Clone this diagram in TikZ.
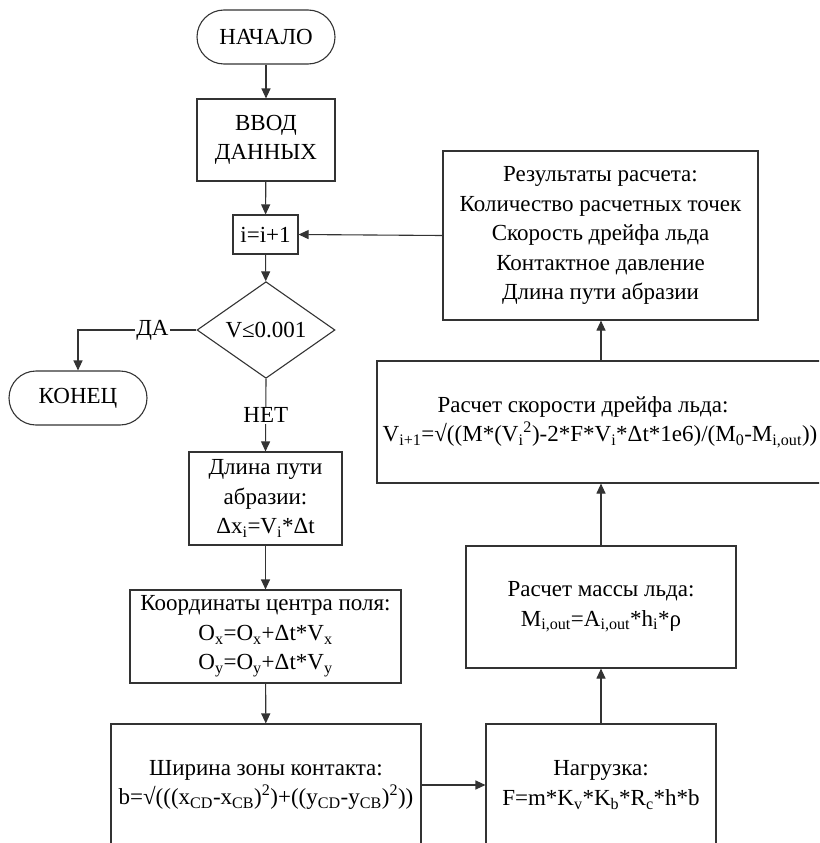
\documentclass[tikz,border=0pt]{standalone}
\usepackage{fontspec}
\setmainfont{Liberation Serif}
\usetikzlibrary{shapes.geometric,arrows.meta}
\newcommand\myfs{\fontsize{23}{29.5}\selectfont}
\begin{document}
\begin{tikzpicture}[x=1pt,y=-1pt,
  every node/.style={font=\myfs},
  box/.style={draw=black!80, line width=1.1pt, rectangle, inner sep=0pt, align=center},
  term/.style={box, rounded corners=27pt, minimum width=138pt, minimum height=54pt},
  dec/.style={draw=black!80, line width=1.1pt, diamond, inner sep=0pt, minimum width=138pt, minimum height=80pt},
  arr/.style={draw=black!80, line width=1.1pt, -{Triangle[length=10pt,width=9pt]}},
  lbl/.style={fill=white, inner sep=1pt}]
\useasboundingbox (0,0) rectangle (819,843);
\clip (0,0) rectangle (819,843);

\node[term] (start) at (266,37) {НАЧАЛО};
\node[box, minimum width=138pt, minimum height=82pt] (input) at (266,140) {ВВОД\\ДАННЫХ};
\node[box, minimum width=65pt, minimum height=39pt] (inc) at (265.5,234.5) {i=i+1};
\node[dec] (cond) at (266,330) {V≤0.001};
\node[term] (stop) at (78,398) {КОНЕЦ};
\node[box, minimum width=153pt, minimum height=93pt] (path) at (265.5,498.5)
  {Длина пути\\абразии:\\Δx\textsubscript{i}=V\textsubscript{i}*Δt};
\node[box, minimum width=271pt, minimum height=93pt] (coord) at (265.5,636.5)
  {Координаты центра поля:\\O\textsubscript{x}=O\textsubscript{x}+Δt*V\textsubscript{x}\\O\textsubscript{y}=O\textsubscript{y}+Δt*V\textsubscript{y}};
\node[box, minimum width=310pt, minimum height=122pt] (width) at (266,785)
  {Ширина зоны контакта:\\b=√(((x\textsubscript{CD}-x\textsubscript{CB})\textsuperscript{2})+((y\textsubscript{CD}-y\textsubscript{CB})\textsuperscript{2}))};
\node[box, minimum width=230pt, minimum height=122pt] (load) at (601,785)
  {Нагрузка:\\F=m*K\textsubscript{v}*K\textsubscript{b}*R\textsubscript{c}*h*b};
\node[box, minimum width=270pt, minimum height=122pt] (mass) at (601,607)
  {Расчет массы льда:\\M\textsubscript{i,out}=A\textsubscript{i,out}*h\textsubscript{i}*ρ};
\node[box, minimum width=446pt, minimum height=122pt] (speed) at (600,422)
  {Расчет скорости дрейфа льда:\hspace*{34pt}\\V\textsubscript{i+1}=√((M*(V\textsubscript{i}\textsuperscript{2})-2*F*V\textsubscript{i}*Δt*1e6)/(M\textsubscript{0}-M\textsubscript{i,out}))};
\node[box, minimum width=315pt, minimum height=169pt] (res) at (600.5,235.5)
  {Результаты расчета:\\Количество расчетных точек\\Скорость дрейфа льда\\Контактное давление\\Длина пути абразии};

\draw[arr] (start) -- (input);
\draw[arr] (input) -- (inc);
\draw[arr] (inc) -- (cond);
\draw[arr] (cond.west) -- ++(-44,0) node[lbl] (yes) {ДА} -| (stop.north);
\draw[arr] (cond.south) -- node[lbl] (no) {НЕТ} (path.north);
\draw[arr] (path) -- (coord);
\draw[arr] (coord) -- (width);
\draw[arr] (width.east) -- (load.west);
\draw[arr] (load.north) -- (mass.south);
\draw[arr] (mass.north) -- (mass.north |- speed.south);
\draw[arr] (mass.north |- speed.north) -- (res.south -| mass.north);
\draw[arr] (res.west) -- (inc.east);
\end{tikzpicture}
\end{document}
